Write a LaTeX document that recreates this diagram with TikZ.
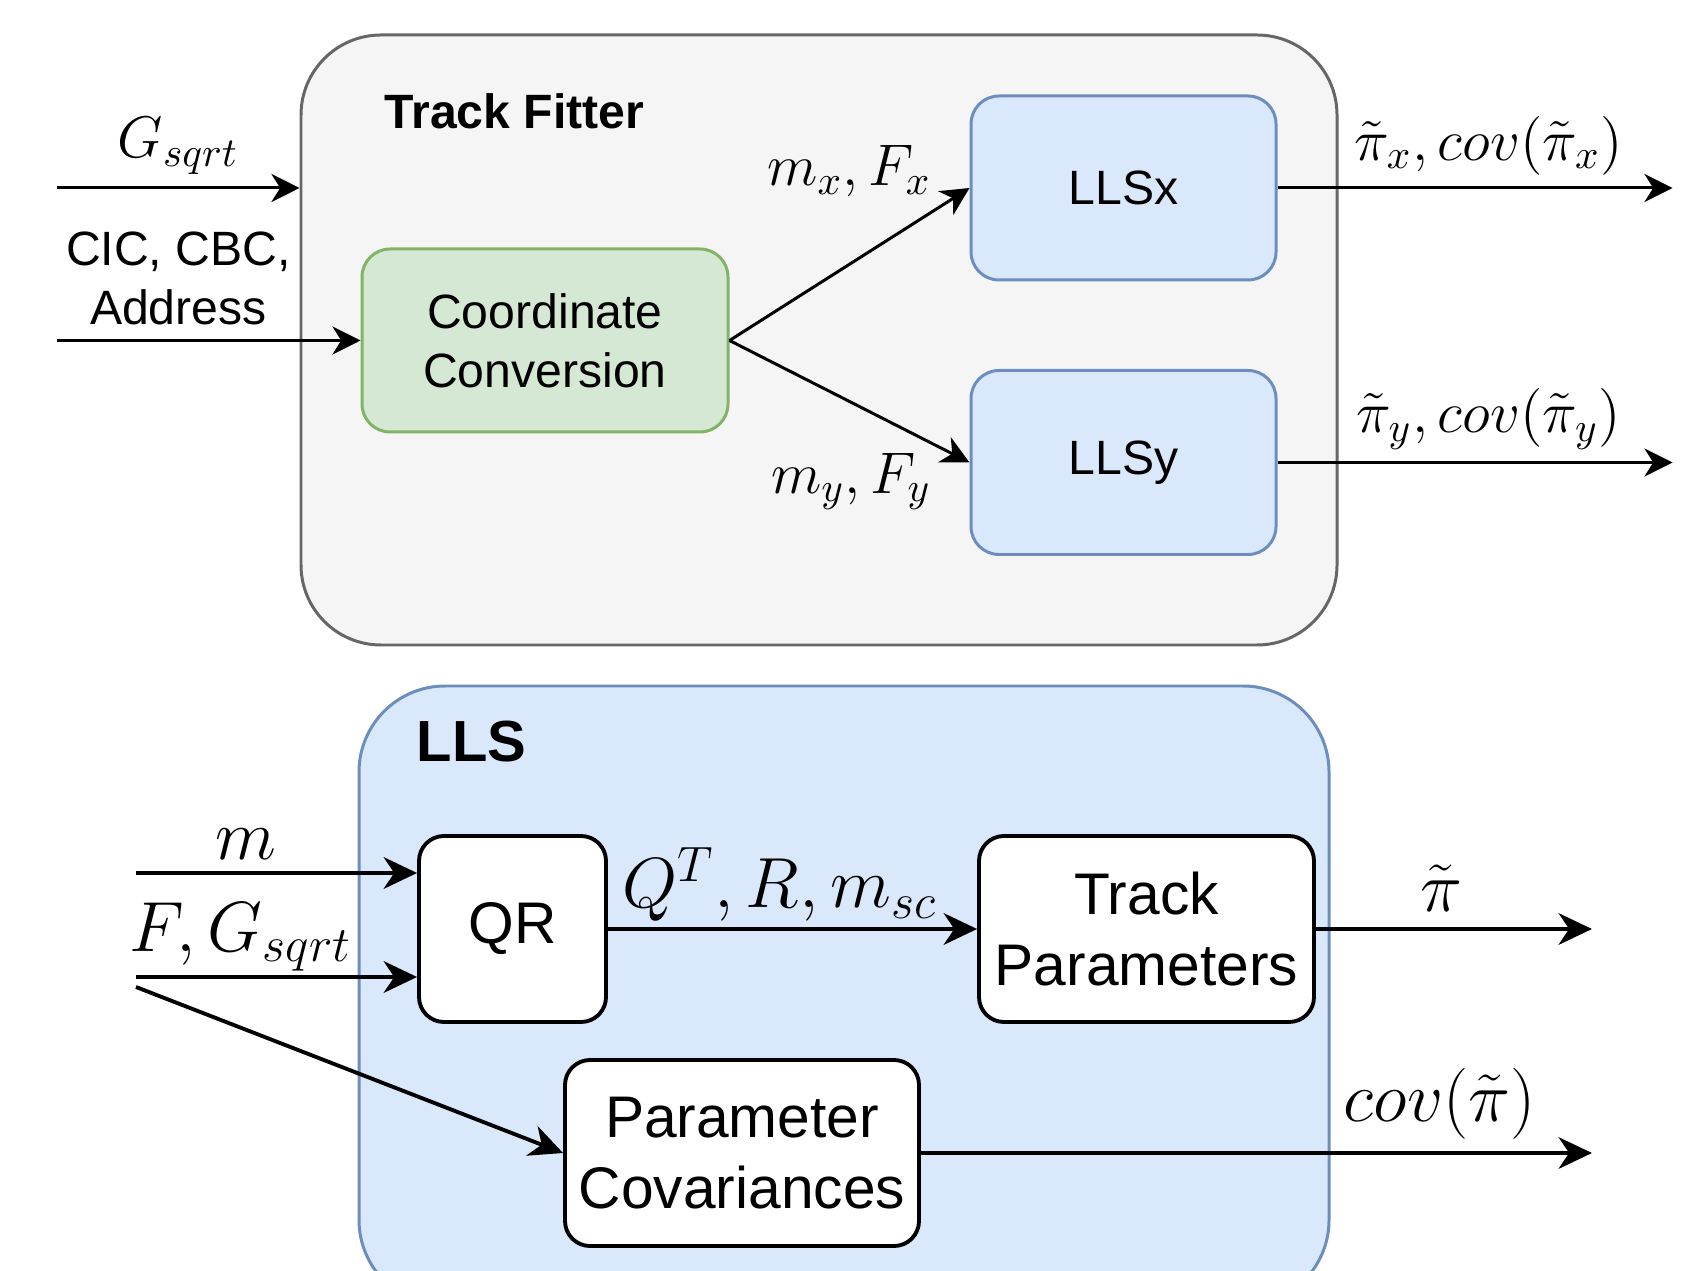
\documentclass[tikz,border=0pt]{standalone}
\usepackage{fix-cm}
\usepackage[no-math]{fontspec}
\setmainfont{Liberation Sans}
\usepackage{xcolor}
\definecolor{grey_fill}{RGB}{245,245,245}
\definecolor{grey_line}{RGB}{102,102,102}
\definecolor{green_fill}{RGB}{213,232,212}
\definecolor{green_line}{RGB}{130,179,102}
\definecolor{blue_fill}{RGB}{218,232,252}
\definecolor{blue_line}{RGB}{108,142,191}
\newcommand\fitterfont{\fontsize{13.7}{16.8}\selectfont}
\newcommand\fittermath{\fontsize{16.7}{20}\selectfont}
\newcommand\llsfont{\fontsize{16.7}{20.1}\selectfont}
\newcommand\llsmath{\fontsize{20.2}{24}\selectfont}
\usepackage{tikz}
\usetikzlibrary{arrows.meta,positioning,calc}

\begin{document}
\begin{tikzpicture}
[
    container/.style = {rounded corners = 0.8cm, line width = 0.85pt, inner sep = 0pt},
    block/.style = {rounded corners = 0.28cm, line width = 0.85pt, align = center, font = \fitterfont},
    lls block/.style = {rounded corners = 0.25cm, line width = 1.1pt, draw = black, fill = white, align = center, font = \llsfont},
    flow/.style = {line width = 0.85pt, -{Stealth[length = 8pt, width = 8pt, inset = 2.5pt]}},
    lls flow/.style = {line width = 1.1pt, -{Stealth[length = 9.5pt, width = 9pt, inset = 3pt]}},
    title/.style = {anchor = west, inner sep = 0pt, font = \bfseries}
]
\clip (0,0) rectangle (16.81,12.70);
\fill[white] (0,0) rectangle (16.81,12.70);

% track fitter
\node[container, fill = grey_fill, draw = grey_line, minimum width = 10.36cm, minimum height = 6.10cm] (fitter) at (8.19,9.30) {};
\node[title, font = \bfseries\fitterfont] (fittertitle) at (3.84,11.59) {Track Fitter};
\node[block, fill = green_fill, draw = green_line, minimum width = 3.66cm, minimum height = 1.83cm] (conv) at (5.45,9.295) {Coordinate\\Conversion};
\node[block, fill = blue_fill, draw = blue_line, minimum width = 3.05cm, minimum height = 1.84cm] (llsx) at (11.235,10.82) {LLSx};
\node[block, fill = blue_fill, draw = blue_line, minimum width = 3.05cm, minimum height = 1.84cm] (llsy) at (11.235,8.075) {LLSy};

\coordinate (gin) at (0.57,10.82);
\coordinate (cin) at (0.57,9.295);
\coordinate[right = 3.95cm of llsx.east] (xout);
\coordinate[right = 3.95cm of llsy.east] (yout);

\draw[flow] (gin) -- (gin -| fitter.west) node[midway, above, font = \fittermath] (glbl) {$G_{sqrt}$};
\draw[flow] (cin) -- (conv.west) node[pos = 0.4, above = 0.14cm, inner sep = 0pt, align = center, font = \fitterfont] (cinlbl) {CIC, CBC,\\Address};
\draw[flow] (conv.east) -- (llsx.west);
\draw[flow] (conv.east) -- (llsy.west);
\node[left = 0.26cm of llsx.west, yshift = 0.17cm, font = \fittermath] (mxlbl) {$m_x, F_x$};
\node[left = 0.26cm of llsy.west, yshift = -0.19cm, font = \fittermath] (mylbl) {$m_y, F_y$};
\draw[flow] (llsx.east) -- (xout) node[pos = 0.534, above, font = \fittermath] (xoutlbl) {$\tilde{\pi}_x, cov(\tilde{\pi}_x)$};
\draw[flow] (llsy.east) -- (yout) node[pos = 0.534, above, font = \fittermath] (youtlbl) {$\tilde{\pi}_y, cov(\tilde{\pi}_y)$};

% lls
\node[container, rounded corners = 0.86cm, fill = blue_fill, draw = blue_line, minimum width = 9.70cm, minimum height = 6.20cm] (lls) at (8.44,2.74) {};
\node[title, font = \bfseries\fontsize{16.5}{20}\selectfont] (llstitle) at (4.16,5.28) {LLS};
\node[lls block, minimum width = 1.87cm, minimum height = 1.86cm] (qr) at (5.125,3.41) {QR};
\node[lls block, minimum width = 3.35cm, minimum height = 1.86cm] (trackpar) at (11.465,3.41) {Track\\Parameters};
\node[lls block, minimum width = 3.54cm, minimum height = 1.86cm] (parcov) at (7.42,1.17) {Parameter\\Covariances};

\coordinate (min) at (1.36,3.97);
\coordinate (fin) at (1.36,2.93);
\coordinate (covin) at (1.36,2.83);
\coordinate[right = 2.76cm of trackpar.east] (parout);
\coordinate (covout) at (parout |- parcov.east);

\draw[lls flow] (min) -- (min -| qr.west) node[pos = 0.39, above, font = \llsmath] (mlbl) {$m$};
\draw[lls flow] (fin) -- (fin -| qr.west) node[pos = 0.373, above, yshift = -0.08cm, font = \llsmath] (flbl) {$F, G_{sqrt}$};
\draw[lls flow] (covin) -- (parcov.west);
\draw[lls flow] (qr.east) -- (trackpar.west) node[pos = 0.466, above, yshift = -0.06cm, font = \llsmath] (qrlbl) {$Q^T, R, m_{sc}$};
\draw[lls flow] (trackpar.east) -- (parout) node[pos = 0.453, above, yshift = 0.04cm, font = \llsmath] (parlbl) {$\tilde{\pi}$};
\draw[lls flow] (parcov.east) -- (covout) node[pos = 0.773, above, font = \llsmath] (covlbl) {$cov(\tilde{\pi})$};
\end{tikzpicture}
\end{document}
